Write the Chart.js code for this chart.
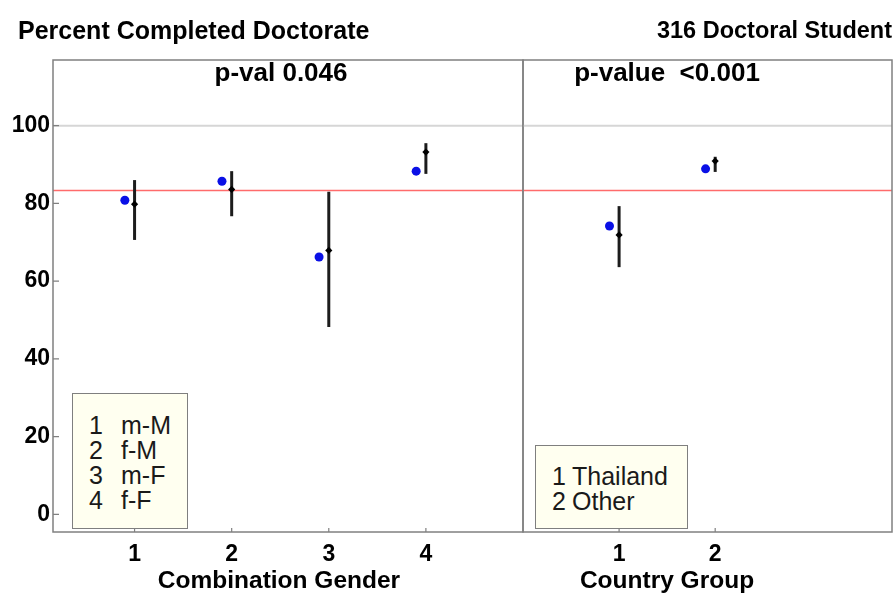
<!DOCTYPE html>
<html>
<head>
<meta charset="utf-8">
<script src="https://cdn.jsdelivr.net/npm/chart.js@4.4.1/dist/chart.umd.min.js"></script>
<style>
  html, body { margin: 0; padding: 0; background: #fff; }
  #wrap { position: relative; width: 894px; height: 597px; overflow: hidden;
          font-family: "Liberation Sans", Arial, sans-serif; color: #000; }
  canvas { position: absolute; top: 0; }
  .t { position: absolute; white-space: pre; font-weight: bold; font-size: 25px; line-height: 1; }
  .box { position: absolute; background: #FFFFF0; border: 1.5px solid #7f7f7f; box-sizing: border-box;
         font-size: 25px; line-height: 25px; color: #1a1a1a; }
  .row { white-space: pre; height: 25px; position: relative; }
  .row span { position: absolute; top: 0; }
</style>
</head>
<body>
<div id="wrap">
  <canvas id="left" width="526" height="597" style="left:0"></canvas>
  <canvas id="right" width="373" height="597" style="left:521px"></canvas>

  <div class="t" style="left:18px; top:18px;">Percent Completed Doctorate</div>
  <div class="t" style="right:2px; top:19px; font-size:23.5px;">316 Doctoral Student</div>
  <div class="t" id="pLeft" style="left:281px; top:59px; font-size:26px; transform:translateX(-50%);"></div>
  <div class="t" id="pRight" style="left:667px; top:59px; font-size:26px; transform:translateX(-50%);"></div>
  <div class="t" id="xTitleLeft" style="left:279px; top:568px; font-size:24.5px; transform:translateX(-50%);"></div>
  <div class="t" id="xTitleRight" style="left:667px; top:568px; font-size:24.5px; transform:translateX(-50%);"></div>

  <div class="box" id="legendLeft" style="left:72px; top:393px; width:116px; height:136px; padding-top:19px;"></div>
  <div class="box" id="legendRight" style="left:535px; top:445px; width:153px; height:84px; padding-top:18px;"></div>
</div>

<script>
// Combination of student and supervisor gender
const genderCodes = [1, 2, 3, 4];
const genderLabels = ['m-M', 'f-M', 'm-F', 'f-F'];
const genderObserved = [80.8, 85.7, 66.2, 88.3];
const genderEstimate = [79.8, 83.6, 67.9, 93.2];
const genderLower = [70.6, 76.7, 48.2, 87.6];
const genderUpper = [86.0, 88.3, 83.0, 95.5];
const genderPValue = 'p-val 0.046';

// Country group
const countryCodes = [1, 2];
const countryLabels = ['Thailand', 'Other'];
const countryObserved = [74.2, 88.9];
const countryEstimate = [71.9, 90.9];
const countryLower = [63.6, 88.1];
const countryUpper = [79.3, 92.0];
const countryPValue = 'p-value  <0.001';

// Whole cohort completion rate and y-axis ticks
const overallRate = 83.3;
const fullRate = 100;
const percentTicks = [0, 20, 40, 60, 80, 100];

const Y_MIN = -4.55, Y_MAX = 116.9;
const OBS_SHIFT = 0.1;          // observed dot sits just left of the estimate
const FRAME = '#808080';
const TICK_FONT = { family: '"Liberation Sans", Arial, sans-serif', size: 23, weight: 'bold' };

// text pieces
document.getElementById('pLeft').textContent = genderPValue;
document.getElementById('pRight').textContent = countryPValue;
document.getElementById('xTitleLeft').textContent = 'Combination Gender';
document.getElementById('xTitleRight').textContent = 'Country Group';

function fillLegend(id, codes, labels, codeLeft, labelLeft) {
  const box = document.getElementById(id);
  codes.forEach((c, i) => {
    const row = document.createElement('div');
    row.className = 'row';
    const a = document.createElement('span');
    a.textContent = String(c);
    a.style.left = codeLeft + 'px';
    const b = document.createElement('span');
    b.textContent = labels[i];
    b.style.left = labelLeft + 'px';
    row.appendChild(a); row.appendChild(b);
    box.appendChild(row);
  });
}
fillLegend('legendLeft', genderCodes, genderLabels, 16, 48);
fillLegend('legendRight', countryCodes, countryLabels, 16, 36);

// frame around the plot area plus short inward tick marks
const framePlugin = {
  id: 'frame',
  afterDraw(chart) {
    const { ctx, chartArea: a, scales } = chart;
    ctx.save();
    ctx.strokeStyle = FRAME;
    ctx.lineWidth = 1.5;
    ctx.strokeRect(a.left, a.top, a.right - a.left, a.bottom - a.top);
    ctx.lineWidth = 1.2;
    ctx.beginPath();
    scales.x.ticks.forEach(t => {
      const px = scales.x.getPixelForValue(t.value);
      ctx.moveTo(px, a.bottom);
      ctx.lineTo(px, a.bottom - 4);
    });
    if (scales.y.options.display) {
      scales.y.ticks.forEach(t => {
        const py = scales.y.getPixelForValue(t.value);
        ctx.moveTo(a.left, py);
        ctx.lineTo(a.left + 6, py);
      });
    }
    ctx.stroke();
    ctx.restore();
  }
};

function panelDatasets(codes, observed, estimate, lower, upper, xMin, xMax) {
  const sets = [];
  sets.push({
    data: codes.map((c, i) => ({ x: c - OBS_SHIFT, y: observed[i] })),
    pointStyle: 'circle', pointRadius: 4.5, backgroundColor: '#0a10e6',
    borderColor: '#0a10e6', borderWidth: 0, showLine: false, order: 0
  });
  sets.push({
    data: codes.map((c, i) => ({ x: c, y: estimate[i] })),
    pointStyle: 'rectRot', pointRadius: 3.6, backgroundColor: '#000',
    borderColor: '#000', borderWidth: 0, showLine: false, order: 0
  });
  codes.forEach((c, i) => {
    sets.push({
      data: [{ x: c, y: lower[i] }, { x: c, y: upper[i] }],
      showLine: true, borderColor: '#1c1c1c', borderWidth: 3, pointRadius: 0, order: 1
    });
  });
  sets.push({
    data: [{ x: xMin, y: overallRate }, { x: xMax, y: overallRate }],
    showLine: true, borderColor: '#ff6b6b', borderWidth: 1.5, pointRadius: 0, order: 2
  });
  sets.push({
    data: [{ x: xMin, y: fullRate }, { x: xMax, y: fullRate }],
    showLine: true, borderColor: '#d6d6d6', borderWidth: 2, pointRadius: 0, order: 3
  });
  return sets;
}

function makeChart(id, codes, observed, estimate, lower, upper, xMin, xMax, withY, padding) {
  return new Chart(document.getElementById(id), {
    type: 'scatter',
    data: { datasets: panelDatasets(codes, observed, estimate, lower, upper, xMin, xMax) },
    plugins: [framePlugin],
    options: {
      responsive: false,
      animation: false,
      devicePixelRatio: 1,
      layout: { padding, autoPadding: false },
      plugins: { legend: { display: false }, tooltip: { enabled: false }, title: { display: false } },
      scales: {
        x: {
          type: 'linear', position: 'bottom', min: xMin, max: xMax,
          grid: { display: false, drawTicks: false }, border: { display: false },
          afterBuildTicks: s => { s.ticks = codes.map(v => ({ value: v })); },
          afterFit: s => { s.height = 65; },
          ticks: { font: TICK_FONT, color: '#000', padding: 9, maxRotation: 0, autoSkip: false,
                   callback: v => String(v) }
        },
        y: {
          type: 'linear', min: Y_MIN, max: Y_MAX, display: withY,
          grid: { display: false, drawTicks: false }, border: { display: false },
          afterBuildTicks: s => { s.ticks = percentTicks.map(v => ({ value: v })); },
          afterFit: s => { s.width = withY ? 53 : 0; },
          ticks: { font: TICK_FONT, color: '#000', padding: 3, callback: v => String(v) }
        }
      }
    }
  });
}

makeChart('left', genderCodes, genderObserved, genderEstimate, genderLower, genderUpper,
          0.16, 5.0, true, { left: 0, right: 3, top: 60, bottom: 0 });
makeChart('right', countryCodes, countryObserved, countryEstimate, countryLower, countryUpper,
          0, 3.84, false, { left: 2, right: 2, top: 60, bottom: 0 });
</script>
</body>
</html>
